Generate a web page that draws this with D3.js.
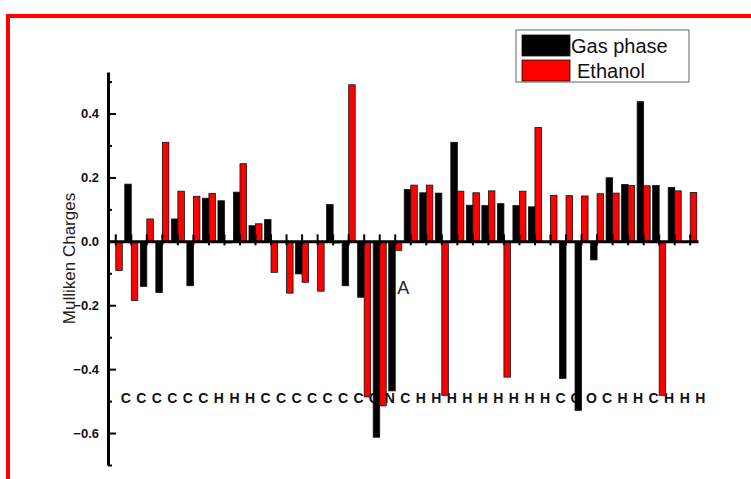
<!DOCTYPE html>
<html>
<head>
<meta charset="utf-8">
<script src="https://cdn.jsdelivr.net/npm/d3@7"></script>
<style>
  body { margin: 0; background: #fff; }
  svg { display: block; font-family: Arial, "Liberation Sans", sans-serif; }
</style>
</head>
<body>
<svg id="chart"></svg>
<script>
// atom labels typed along the bottom of the plot (one per group)
const atoms = ['C','C','C','C','C','C','H','H','H','C','C','C','C','C','C','C','O','N','C',
    'H','H','H','H','H','H','H','H','H','C','O','O','C','H','H','C','H','H','H'];

// Mulliken charges
const gasPhase = [0.0, 0.179, -0.141, -0.160, 0.070, -0.139, 0.135, 0.127, 0.154, 0.049,
    0.068, 0.0, -0.102, 0.0, 0.115, -0.139, -0.175, -0.613, -0.468, 0.162,
    0.152, 0.151, 0.310, 0.113, 0.112, 0.118, 0.112, 0.108, 0.0, -0.429,
    -0.529, -0.058, 0.199, 0.178, 0.437, 0.175, 0.169, 0.0];
const ethanol = [-0.091, -0.185, 0.070, 0.310, 0.157, 0.141, 0.150, -0.005, 0.243, 0.055,
    -0.097, -0.162, -0.128, -0.156, -0.005, 0.490, -0.487, -0.515, -0.028, 0.176,
    0.176, -0.482, 0.157, 0.152, 0.158, -0.425, 0.157, 0.356, 0.144, 0.143,
    0.142, 0.149, 0.151, 0.175, 0.174, -0.482, 0.158, 0.153];

const seriesNames = ['Gas phase', 'Ethanol'];
const seriesColors = ['#000000', '#ff0000'];
const yTicks = [-0.6, -0.4, -0.2, 0.0, 0.2, 0.4];
const yMinorTicks = [-0.7, -0.5, -0.3, -0.1, 0.1, 0.3, 0.5];

class ChargeBars {

    constructor(_config) {
        this.config = {
            parentElement: _config.parentElement,
            containerWidth: _config.containerWidth || 751,
            containerHeight: _config.containerHeight || 479,
            margin: _config.margin || { top: 72, right: 53, bottom: 14, left: 108 }
        }
        this.initVis();
    }

    initVis() {
        let vis = this;

        vis.width = vis.config.containerWidth - vis.config.margin.left - vis.config.margin.right;
        vis.height = vis.config.containerHeight - vis.config.margin.top - vis.config.margin.bottom;

        vis.svg = d3.select(vis.config.parentElement)
            .attr('width', vis.config.containerWidth)
            .attr('height', vis.config.containerHeight);

        // red frame, runs off the right and bottom edges
        vis.svg.append('rect')
            .attr('x', 8)
            .attr('y', 16)
            .attr('width', 800)
            .attr('height', 500)
            .attr('fill', 'none')
            .attr('stroke', '#ff0000')
            .attr('stroke-width', 4);

        vis.chart = vis.svg.append('g')
            .attr('transform', `translate(${vis.config.margin.left},${vis.config.margin.top})`);

        vis.xScale = d3.scaleBand()
            .domain(d3.range(atoms.length))
            .range([0, vis.width]);

        vis.yScale = d3.scaleLinear()
            .domain([-0.7, 0.53])
            .range([vis.height, 0]);

        vis.renderVis();
    }

    renderVis() {
        let vis = this;
        const x = vis.xScale, y = vis.yScale;
        const center = i => x(i) + x.bandwidth() / 2;
        const barWidth = x.bandwidth() * 0.42;

        // --------- Atom labels (drawn under the bars) ---------
        vis.chart.selectAll('.atom-label')
            .data(atoms)
            .join('text')
            .attr('class', 'atom-label')
            .attr('x', (d, i) => center(i) + 10)
            .attr('y', y(-0.5) + 2)
            .attr('text-anchor', 'middle')
            .attr('font-size', 14)
            .attr('font-weight', 'bold')
            .attr('fill', '#111')
            .text(d => d);

        // --------- Bars ---------
        const rows = [];
        atoms.forEach((a, i) => {
            rows.push({ i: i, s: 0, value: gasPhase[i] });
            rows.push({ i: i, s: 1, value: ethanol[i] });
        });

        vis.chart.selectAll('.bar')
            .data(rows)
            .join('rect')
            .attr('class', 'bar')
            .attr('x', d => d.s === 0 ? center(d.i) - barWidth : center(d.i))
            .attr('width', barWidth)
            .attr('y', d => y(Math.max(0, d.value)))
            .attr('height', d => Math.abs(y(d.value) - y(0)))
            .attr('fill', d => seriesColors[d.s])
            .attr('stroke', '#111')
            .attr('stroke-width', 0.8);

        // --------- Axes ---------
        const yAxis = d3.axisLeft(y)
            .tickValues(yTicks)
            .tickFormat(d3.format('.1f'))
            .tickSizeInner(-8)
            .tickSizeOuter(0)
            .tickPadding(9);

        const yAxisG = vis.chart.append('g')
            .attr('class', 'y-axis')
            .call(yAxis);
        yAxisG.select('.domain').attr('stroke-width', 3);
        yAxisG.selectAll('.tick line').attr('stroke-width', 2);
        yAxisG.selectAll('.tick text')
            .attr('font-size', 13)
            .attr('font-weight', 'bold')
            .attr('font-family', 'Arial, "Liberation Sans", sans-serif')
            .attr('fill', '#111');

        const yMinor = vis.chart.append('g')
            .call(d3.axisLeft(y).tickValues(yMinorTicks).tickSizeInner(-4).tickSizeOuter(0).tickFormat(''));
        yMinor.select('.domain').remove();
        yMinor.selectAll('.tick line').attr('stroke-width', 2);

        const xAxisG = vis.chart.append('g')
            .attr('class', 'x-axis')
            .attr('transform', `translate(0,${y(0)})`)
            .call(d3.axisBottom(x).tickSizeOuter(0).tickFormat(''));
        xAxisG.select('.domain').attr('stroke-width', 3);
        xAxisG.selectAll('.tick line')
            .attr('y1', -7)
            .attr('y2', 4)
            .attr('stroke-width', 2);

        // y axis title
        vis.svg.append('text')
            .attr('transform', `translate(75,${vis.config.margin.top + vis.height / 2 - 10}) rotate(-90)`)
            .attr('text-anchor', 'middle')
            .attr('font-size', 17)
            .attr('fill', '#222')
            .text('Mulliken Charges');

        // annotation
        vis.chart.append('text')
            .attr('x', center(18) + 2)
            .attr('y', y(-0.165))
            .attr('font-size', 18)
            .attr('fill', '#222')
            .text('A');

        // --------- Legend ---------
        const legend = vis.svg.append('g')
            .attr('transform', 'translate(516,30)');

        legend.append('rect')
            .attr('width', 173)
            .attr('height', 52)
            .attr('fill', '#fff')
            .attr('stroke', '#666')
            .attr('stroke-width', 1);

        const items = legend.selectAll('.legend-item')
            .data(seriesNames)
            .join('g')
            .attr('class', 'legend-item')
            .attr('transform', (d, i) => `translate(6,${5 + i * 25})`);

        items.append('rect')
            .attr('width', 48)
            .attr('height', 21)
            .attr('fill', (d, i) => seriesColors[i])
            .attr('stroke', '#111')
            .attr('stroke-width', 0.8);

        items.append('text')
            .attr('x', (d, i) => i === 0 ? 49 : 55)
            .attr('y', 18)
            .attr('font-size', 20)
            .attr('fill', '#111')
            .text(d => d);
    }
}

const chargeBars = new ChargeBars({ parentElement: '#chart' });
</script>
</body>
</html>
